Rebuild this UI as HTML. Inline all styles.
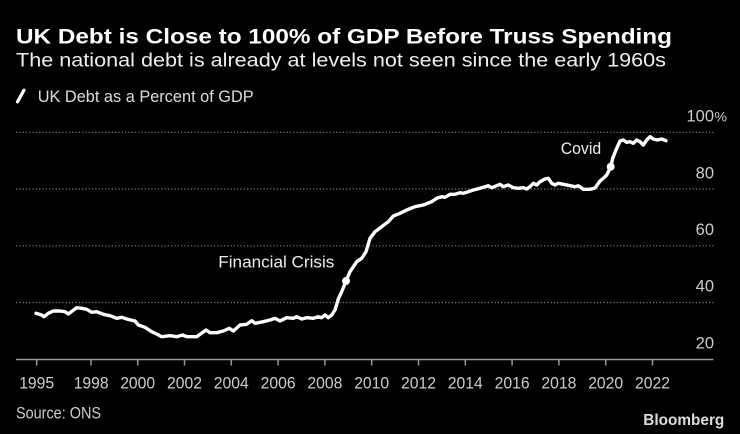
<!DOCTYPE html>
<html>
<head>
<meta charset="utf-8">
<style>
  html, body { margin: 0; padding: 0; background: #000; }
  body { width: 740px; height: 434px; overflow: hidden; }
  svg { display: block; }
  text { font-family: "Liberation Sans", "DejaVu Sans", sans-serif; }
</style>
</head>
<body>
<svg width="740" height="434" viewBox="0 0 740 434" xmlns="http://www.w3.org/2000/svg">
  <rect x="0" y="0" width="740" height="434" fill="#000"/>

  <!-- Titles -->
  <text x="16" y="43.3" font-size="21.5" font-weight="bold" fill="#ffffff" textLength="656" lengthAdjust="spacingAndGlyphs">UK Debt is Close to 100% of GDP Before Truss Spending</text>
  <text x="16" y="66.7" font-size="19.5" fill="#eeeeee" textLength="650" lengthAdjust="spacingAndGlyphs">The national debt is already at levels not seen since the early 1960s</text>

  <!-- Legend -->
  <line x1="17.5" y1="101.8" x2="24" y2="90.2" stroke="#ffffff" stroke-width="3.2" stroke-linecap="round"/>
  <text x="37.7" y="101.8" font-size="16.5" fill="#dddddd" textLength="216" lengthAdjust="spacingAndGlyphs">UK Debt as a Percent of GDP</text>

  <!-- Gridlines -->
  <g stroke="#777" stroke-width="1.2" stroke-dasharray="1.3,2">
    <line x1="16" y1="132.3" x2="714" y2="132.3"/>
    <line x1="16" y1="189" x2="714" y2="189"/>
    <line x1="16" y1="245.8" x2="714" y2="245.8"/>
    <line x1="16" y1="302.5" x2="714" y2="302.5"/>
  </g>

  <!-- Y labels -->
  <g font-size="16.5" fill="#cccccc" text-anchor="end">
    <text x="714" y="121.7">100</text>
    <text x="714" y="178.3">80</text>
    <text x="714" y="235">60</text>
    <text x="714" y="291.7">40</text>
    <text x="714" y="348.5">20</text>
  </g>
  <text x="714.5" y="121.7" font-size="14" fill="#cccccc">%</text>

  <!-- X axis -->
  <line x1="16" y1="359.5" x2="713.5" y2="359.5" stroke="#999" stroke-width="1.5"/>
  <g stroke="#999" stroke-width="1.5">
    <line x1="36.7" y1="359.5" x2="36.7" y2="365.5"/>
    <line x1="91" y1="359.5" x2="91" y2="365.5"/>
    <line x1="137.7" y1="359.5" x2="137.7" y2="365.5"/>
    <line x1="184.5" y1="359.5" x2="184.5" y2="365.5"/>
    <line x1="231.3" y1="359.5" x2="231.3" y2="365.5"/>
    <line x1="278.1" y1="359.5" x2="278.1" y2="365.5"/>
    <line x1="324.9" y1="359.5" x2="324.9" y2="365.5"/>
    <line x1="371.7" y1="359.5" x2="371.7" y2="365.5"/>
    <line x1="418.5" y1="359.5" x2="418.5" y2="365.5"/>
    <line x1="465.3" y1="359.5" x2="465.3" y2="365.5"/>
    <line x1="512.1" y1="359.5" x2="512.1" y2="365.5"/>
    <line x1="558.9" y1="359.5" x2="558.9" y2="365.5"/>
    <line x1="605.7" y1="359.5" x2="605.7" y2="365.5"/>
    <line x1="652.5" y1="359.5" x2="652.5" y2="365.5"/>
  </g>
  <g font-size="17" fill="#cccccc" text-anchor="middle">
    <text x="36.7" y="388.3" textLength="35" lengthAdjust="spacingAndGlyphs">1995</text>
    <text x="91.2" y="388.3" textLength="35" lengthAdjust="spacingAndGlyphs">1998</text>
    <text x="137.7" y="388.3" textLength="35" lengthAdjust="spacingAndGlyphs">2000</text>
    <text x="184.5" y="388.3" textLength="35" lengthAdjust="spacingAndGlyphs">2002</text>
    <text x="231.3" y="388.3" textLength="35" lengthAdjust="spacingAndGlyphs">2004</text>
    <text x="278.1" y="388.3" textLength="35" lengthAdjust="spacingAndGlyphs">2006</text>
    <text x="324.9" y="388.3" textLength="35" lengthAdjust="spacingAndGlyphs">2008</text>
    <text x="371.7" y="388.3" textLength="35" lengthAdjust="spacingAndGlyphs">2010</text>
    <text x="418.5" y="388.3" textLength="35" lengthAdjust="spacingAndGlyphs">2012</text>
    <text x="465.3" y="388.3" textLength="35" lengthAdjust="spacingAndGlyphs">2014</text>
    <text x="512.1" y="388.3" textLength="35" lengthAdjust="spacingAndGlyphs">2016</text>
    <text x="558.9" y="388.3" textLength="35" lengthAdjust="spacingAndGlyphs">2018</text>
    <text x="605.7" y="388.3" textLength="35" lengthAdjust="spacingAndGlyphs">2020</text>
    <text x="652.5" y="388.3" textLength="35" lengthAdjust="spacingAndGlyphs">2022</text>
  </g>

  <!-- Series -->
  <polyline fill="none" stroke="#ffffff" stroke-width="3.4" stroke-linejoin="round" stroke-linecap="round" points="
    36,313.3 41.7,315 44,316.7 48.3,313.3 53.3,311 60,311 65,311.7 68.3,314 76.7,307.7 81.7,308.3
    86.7,309.3 91.7,312.3 96.7,311.7 103.3,314.3 110,315.7 116.7,318.3 121.7,317.3 126.7,319 135,321
    138.3,325 145,327.3 151.7,331.7 156.7,334 161.7,336.7 170,335.7 176.7,336.7 182.7,335 186.7,336.7
    190,336.7 196.7,336.7 206,330 210,332.7 216.7,332.7 223.3,331 229.3,328.3 233.3,331 240,325
    246.7,324.3 251.7,320.7 255,323.3 263.3,321.7 270,320 275,318.3 280,321 286.7,317.7 293.3,318.3
    296.7,316.7 301.7,319 306.7,317.7 313.3,318.3 318.3,316.7 321.7,317.7 325,315 328.3,317.7 331.7,315
    335,310 338.3,299 342,291 346,281 350,271.7 356.7,261.7 361.7,258.3 366,251.7 370,238.3 375,231.7
    381.7,226.7 388.3,221.7 393.3,216 400,213.3 406.7,210 415,206.7 423.3,205 431.7,201.7 436.7,198.3
    441.7,196.7 445,197.3 450,194.3 455,194.3 460,192.7 463.3,193.3 468.3,191.7 473.3,190 480,188.3
    485,186.7 488.3,185.7 491.7,187.7 496.7,185.7 500,184.3 503.3,186.7 508.3,185 513.3,187.7 518.3,188.3
    523.3,187.7 526.7,189 530,186.7 533.3,183.3 536.7,185 540,181.7 545,179 548.3,178.3 551.7,183.3
    555,185 558.3,183.3 563.3,184.3 570,185.7 575,186.7 578.3,185.7 583.3,189.3 590,189.3 595,188
    600,181 604,177.7 606.7,175 610.7,166.7 612.7,158.3 616,150 620,141 623.3,140 626.7,142.3 630,141.7
    633.3,143.3 636.7,140 640,141.7 643.3,145 646.7,140 650,136.7 653.3,139 657.3,140 661.7,139 666,140.7"/>

  <!-- Annotation dots -->
  <circle cx="346" cy="281" r="4" fill="#ffffff"/>
  <circle cx="610.7" cy="166.7" r="4" fill="#ffffff"/>

  <!-- Annotations -->
  <text x="218.3" y="267.7" font-size="16.5" fill="#eeeeee" textLength="116" lengthAdjust="spacingAndGlyphs">Financial Crisis</text>
  <text x="560.7" y="154" font-size="16.5" fill="#eeeeee" textLength="40.5" lengthAdjust="spacingAndGlyphs">Covid</text>

  <!-- Footer -->
  <text x="16" y="418.3" font-size="16.5" fill="#cccccc" textLength="85" lengthAdjust="spacingAndGlyphs">Source: ONS</text>
  <text x="643.3" y="425" font-size="15.5" font-weight="bold" fill="#dddddd" textLength="81" lengthAdjust="spacingAndGlyphs">Bloomberg</text>
</svg>
</body>
</html>
